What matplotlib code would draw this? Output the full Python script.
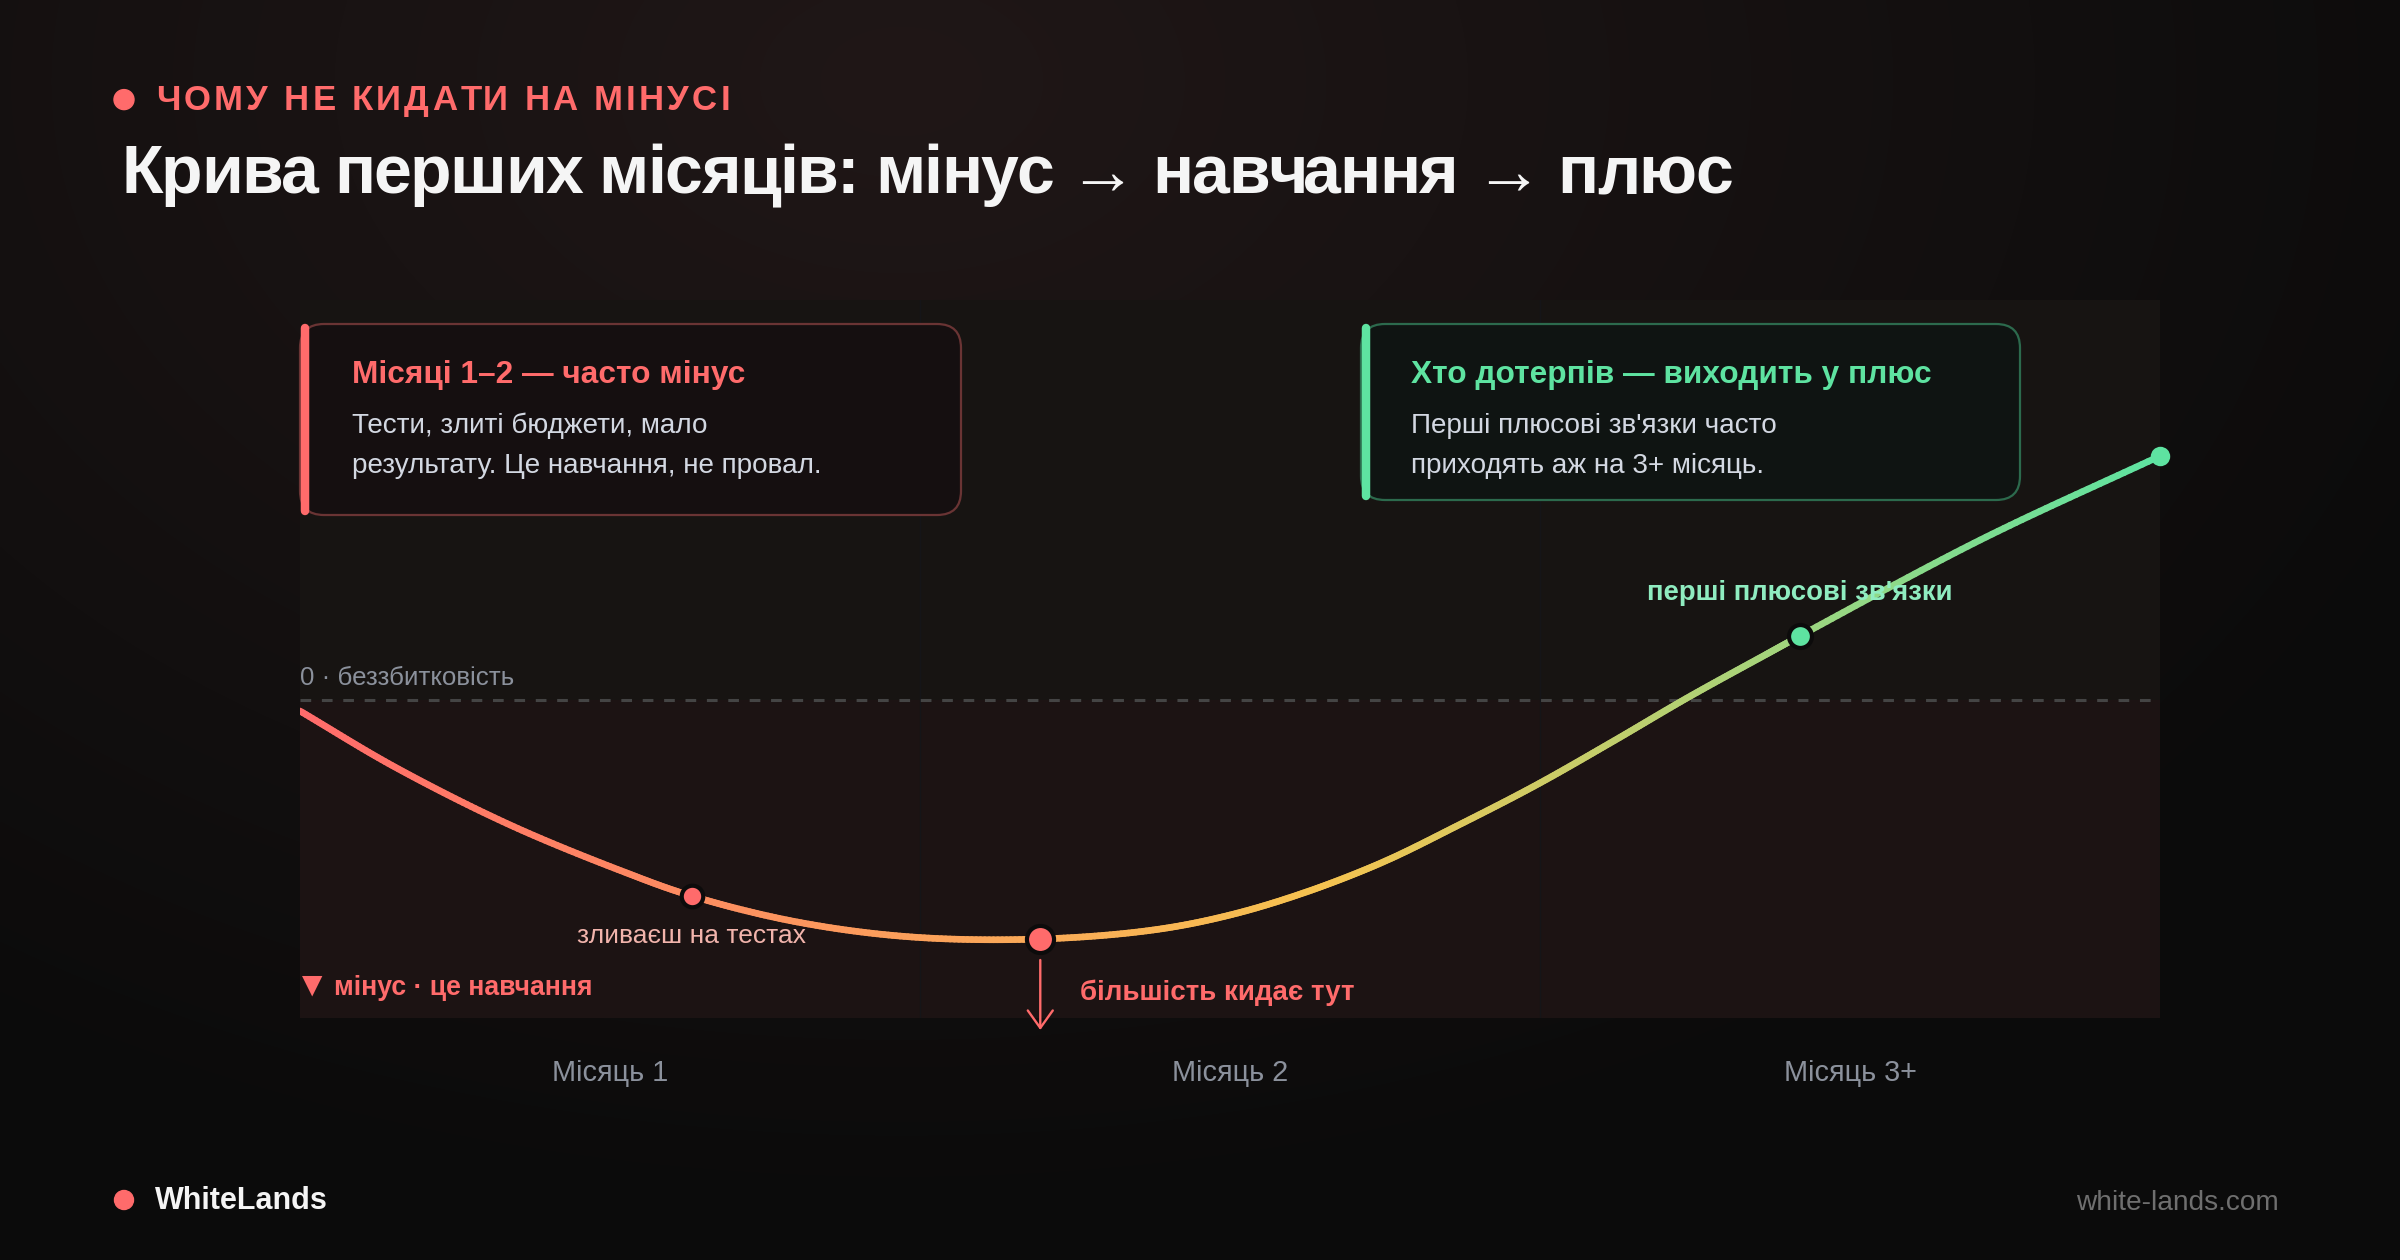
import numpy as np
import matplotlib
matplotlib.use("Agg")
import matplotlib.pyplot as plt
from matplotlib.transforms import IdentityTransform
from matplotlib.patches import FancyBboxPatch, Circle
from matplotlib.lines import Line2D
from matplotlib.collections import LineCollection
from matplotlib.colors import LinearSegmentedColormap, to_rgb

plt.rcParams['font.family'] = ['Liberation Sans', 'DejaVu Sans']

# ---------------- data ----------------
months = ["Місяць 1", "Місяць 2", "Місяць 3+"]
month_pos = [0.5, 1.5, 2.5]
# curve: x in months (0..3), y = result index (0 = break-even)
curve_x = [0.0, 0.153, 0.339, 0.523, 0.632, 0.802, 0.987, 1.194, 1.376, 1.5, 1.623,
           1.747, 1.869, 1.994, 2.116, 2.24, 2.363, 2.419, 2.71, 3.0]
curve_y = [-2.75, -16.75, -31.25, -43.0, -49.0, -55.5, -59.25, -59.75, -57.5, -53.75, -48.0,
           -40.5, -31.25, -21.25, -10.5, 0.75, 11.25, 16.0, 40.0, 61.0]
tests_pt = (0.632, -49.0)
quit_pt = (1.194, -59.75)
first_plus_pt = (2.419, 16.0)
end_pt = (3.0, 61.0)
y_min, y_max = -79.5, 100.0

kicker = "ЧОМУ НЕ КИДАТИ НА МІНУСІ"
title = "Крива перших місяців: мінус → навчання → плюс"
box1_title = "Місяці 1–2 — часто мінус"
box1_lines = ["Тести, злиті бюджети, мало", "результату. Це навчання, не провал."]
box2_title = "Хто дотерпів — виходить у плюс"
box2_lines = ["Перші плюсові зв'язки часто", "приходять аж на 3+ місяць."]
zero_label = "0 · беззбитковість"
tests_label = "зливаєш на тестах"
minus_marker = "▼"
minus_label = "мінус · це навчання"
quit_label = "більшість кидає тут"
plus_label = "перші плюсові зв'язки"
brand = "WhiteLands"
site = "white-lands.com"

RED = "#ff6b6b"
GREEN = "#5ee3a1"
GRAY = "#8b919c"

W, H = 2400, 1260
fig = plt.figure(figsize=(24, 12.6), dpi=100)
ID = IdentityTransform()

# ---------------- background ----------------
yy, xx = np.mgrid[0:H:3, 0:W:3]
d = np.sqrt(((xx - 900) / 1700.0) ** 2 + ((yy - 80) / 1150.0) ** 2)
t = np.clip(d, 0, 1)[..., None]
c_in = np.array(to_rgb("#201717"))
c_out = np.array(to_rgb("#0b0b0b"))
img = c_in * (1 - t) + c_out * t
bg = fig.add_axes([0, 0, 1, 1], zorder=-10)
bg.imshow(img, extent=[0, 1, 0, 1], aspect="auto", origin="upper", interpolation="bilinear")
bg.axis("off")

# ---------------- plot axes ----------------
L, R, T, B = 300, 2160, 300, 1018
ax = fig.add_axes([L / W, (H - B) / H, (R - L) / W, (B - T) / H])
ax.set_xlim(0, 3)
ax.set_ylim(y_min, y_max)
ax.patch.set_alpha(0)
for s in ax.spines.values():
    s.set_visible(False)
ax.set_yticks([])
ax.set_xticks(month_pos, months)
ax.tick_params(axis="x", length=0, pad=29.5, labelsize=20.8, labelcolor=GRAY)

ax.axhspan(0, y_max, color="#171412", zorder=0, lw=0)
ax.axhspan(y_min, 0, color="#1c1313", zorder=0, lw=0)
for xv in (1, 2):
    ax.axvline(xv, color="#151518", lw=1.0, zorder=0.5)
ax.axhline(0, color="#444444", lw=2.2, dashes=(3.5, 3.5), zorder=1)


# smooth rendering of the read points (centripetal Catmull-Rom in pixel space)
def to_px(x, y):
    return np.column_stack([L + (R - L) * np.asarray(x) / 3.0,
                            700 - 4.0 * np.asarray(y)])


def from_px(P):
    return (P[:, 0] - L) * 3.0 / (R - L), (700 - P[:, 1]) / 4.0


def catmull(P, n=30, alpha=0.5):
    P = np.vstack([2 * P[0] - P[1], P, 2 * P[-1] - P[-2]])
    out = []
    for i in range(1, len(P) - 2):
        p0, p1, p2, p3 = P[i - 1], P[i], P[i + 1], P[i + 2]
        t0 = 0
        t1 = t0 + np.linalg.norm(p1 - p0) ** alpha
        t2 = t1 + np.linalg.norm(p2 - p1) ** alpha
        t3 = t2 + np.linalg.norm(p3 - p2) ** alpha
        ts = np.linspace(t1, t2, n, endpoint=False)[:, None]
        A1 = (t1 - ts) / (t1 - t0) * p0 + (ts - t0) / (t1 - t0) * p1
        A2 = (t2 - ts) / (t2 - t1) * p1 + (ts - t1) / (t2 - t1) * p2
        A3 = (t3 - ts) / (t3 - t2) * p2 + (ts - t2) / (t3 - t2) * p3
        B1 = (t2 - ts) / (t2 - t0) * A1 + (ts - t0) / (t2 - t0) * A2
        B2 = (t3 - ts) / (t3 - t1) * A2 + (ts - t1) / (t3 - t1) * A3
        C = (t2 - ts) / (t2 - t1) * B1 + (ts - t1) / (t2 - t1) * B2
        out.append(C)
    out.append(P[-2][None, :])
    return np.vstack(out)


sm = catmull(to_px(curve_x, curve_y))
sx, sy = from_px(sm)
pts = np.column_stack([sx, sy]).reshape(-1, 1, 2)
segs = np.concatenate([pts[:-1], pts[1:]], axis=1)
cmap = LinearSegmentedColormap.from_list(
    "g", [(0, RED), (0.35, "#fba35a"), (0.55, "#f6c350"), (1.0, GREEN)])
cols = cmap(((sx[:-1] + sx[1:]) / 2) / 3.0)
lc = LineCollection(segs, colors=cols, linewidths=4.8, capstyle="round",
                    joinstyle="round", zorder=3)
ax.add_collection(lc)

# markers
mk = dict(zorder=5, clip_on=False)
ax.plot(*tests_pt, "o", ms=15.5, mfc=RED, mec="#0c0b0b", mew=3.0, **mk)
ax.plot(*quit_pt, "o", ms=19.5, mfc=RED, mec="#0c0b0b", mew=3.0, **mk)
ax.plot(*first_plus_pt, "o", ms=16.5, mfc=GREEN, mec="#0c0b0b", mew=3.0, **mk)
ax.plot(*end_pt, "o", ms=14.0, mfc=GREEN, mec="none", **mk)

# arrow under the minimum
ax.annotate("", xy=(quit_pt[0], -82.5), xytext=(quit_pt[0], -65.0),
            arrowprops=dict(arrowstyle="->,head_length=0.42,head_width=0.3",
                            color=RED, lw=1.7, mutation_scale=30,
                            shrinkA=0, shrinkB=0),
            annotation_clip=False, zorder=4)

# chart labels
ax.text(0.0, 3.75, zero_label, ha="left", va="baseline", fontsize=18.6, color=GRAY, zorder=6)
ax.text(tests_pt[0], -60.75, tests_label, ha="center", va="baseline", fontsize=19,
        color="#f2b4ac", zorder=6)
ax.text(-0.008, -74.0, minus_marker, ha="left", va="baseline", fontsize=25,
        color=RED, zorder=6)
ax.text(0.0555, -73.75, minus_label, ha="left", va="baseline", fontsize=19.2,
        fontweight="bold", color=RED, zorder=6)
ax.text(1.258, -75.0, quit_label, ha="left", va="baseline", fontsize=20,
        fontweight="bold", color=RED, zorder=6)
ax.text(first_plus_pt[0], 25.0, plus_label, ha="center", va="baseline", fontsize=19.8,
        fontweight="bold", color="#8fecc0", zorder=6)


# ---------------- boxes ----------------
def card(x0, y0, x1, y1, fc, ec, accent):
    p = FancyBboxPatch((x0, H - y1), x1 - x0, y1 - y0,
                       boxstyle="round,pad=0,rounding_size=24",
                       transform=ID, fc=fc, ec=ec, lw=1.6, zorder=2)
    fig.add_artist(p)
    fig.add_artist(Line2D([x0 + 5, x0 + 5], [H - (y0 + 4), H - (y1 - 4)], transform=ID,
                          lw=6.1, color=accent, solid_capstyle="round", zorder=3))


def ftext(x, y, s, **kw):
    return fig.text(x / W, 1 - y / H, s, va="baseline", **kw)


card(300, 324, 961, 515, "#150f10", "#6a3434", RED)
ftext(352, 383, box1_title, fontsize=22.8, fontweight="bold", color=RED)
ftext(352, 433, box1_lines[0], fontsize=20.1, color="#d3d8e2")
ftext(352, 473, box1_lines[1], fontsize=20.1, color="#d3d8e2")

card(1361, 324, 2020, 500, "#0f1412", "#2c6a4d", GREEN)
ftext(1411, 383, box2_title, fontsize=22.8, fontweight="bold", color=GREEN)
ftext(1411, 433, box2_lines[0], fontsize=20.1, color="#d3d8e2")
ftext(1411, 473, box2_lines[1], fontsize=20.1, color="#d3d8e2")

# ---------------- header ----------------
fig.add_artist(Circle((124, H - 99.6), 10, transform=ID, color=RED))
renderer = fig.canvas.get_renderer()


def text_w(s, **kw):
    a = fig.text(0, 0, "H" + s + "H", **kw)
    b = fig.text(0, 0, "HH", **kw)
    w = a.get_window_extent(renderer).width - b.get_window_extent(renderer).width
    a.remove()
    b.remove()
    return w


def spaced(s, x0, y, target_w, **kw):
    full_w = text_w(s, **kw)
    sp = (target_w - full_w) / (len(s) - 1)
    for i, ch in enumerate(s):
        if ch == " ":
            continue
        ftext(x0 + text_w(s[:i], **kw) + i * sp, y, ch, **kw)


spaced(kicker, 156, 110, 574, fontsize=25, fontweight="bold", color=RED)
spaced(title, 121, 193, 1611, fontsize=49, fontweight="bold", color="#f5f5f5")

# ---------------- footer ----------------
fig.add_artist(Circle((124, H - 1200), 9.5, transform=ID, color=RED))
ftext(155, 1209, brand, fontsize=22, fontweight="bold", color="#f5f5f5")
ftext(2279, 1210, site, fontsize=20.2, color="#6f6f6f", ha="right")

fig.savefig("out.png", dpi=100, facecolor="#0b0b0b")
